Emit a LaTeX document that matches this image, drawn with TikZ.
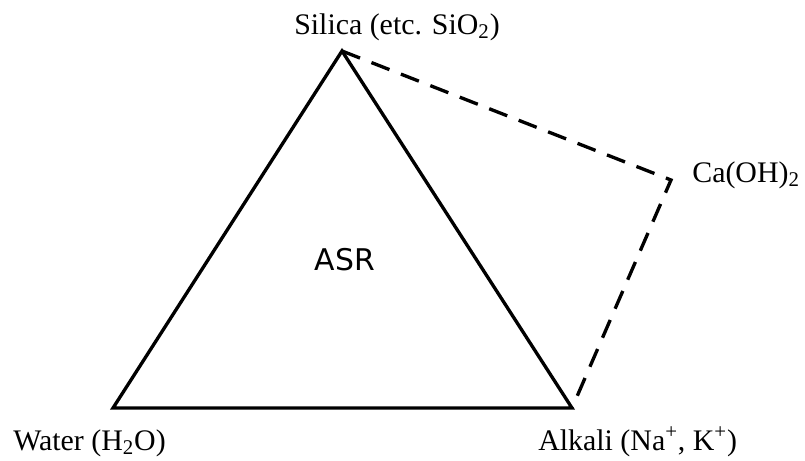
\documentclass[tikz,border=0pt]{standalone}
\usepackage{fontspec}
\setmainfont{Liberation Serif}
\newfontfamily\asrfont{DejaVu Sans}
\usetikzlibrary{positioning}

\begin{document}
\begin{tikzpicture}[x=0.02cm, y=-0.02cm,
    edge/.style={line width=1.9pt, line join=miter},
    dashedge/.style={line width=1.9pt, dash pattern=on 11pt off 7pt},
    vlabel/.style={font=\fontsize{17}{20}\selectfont, anchor=base, inner sep=0pt}]
            \useasboundingbox (0,0) rectangle (805,460);

            % Corners
            \coordinate (silica) at (342,51);
            \coordinate (water) at (113,408);
            \coordinate (alkali) at (572,408);
            \coordinate (caoh) at (671,180);

            % Triangle
            \draw[edge] (silica) -- (alkali) -- (water) -- cycle;

            % Dashed part
            \draw[dashedge] (silica) -- (caoh) -- (alkali);

            % Labels
            \node[vlabel] (silicalbl) at (397,34) {Silica (etc. SiO\textsubscript{2})};
            \node[vlabel, anchor=base west] (caohlbl) at (692,182) {Ca(OH)\textsubscript{2}};
            \node[vlabel, anchor=base west] (waterlbl) at (13,450) {Water (H\textsubscript{2}O)};
            \node[vlabel, anchor=base west] (alkalilbl) at (538,450) {Alkali (Na\textsuperscript{+}, K\textsuperscript{+})};
            \node[font=\asrfont\fontsize{17}{20}\selectfont, anchor=base] (asr) at (345,270) {ASR};
        \end{tikzpicture}
\end{document}
